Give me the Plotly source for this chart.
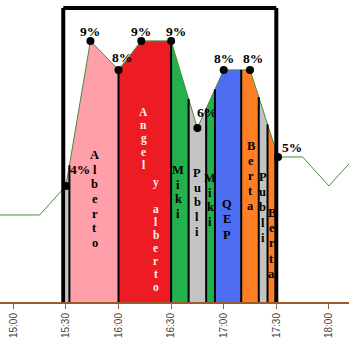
import numpy as np
import plotly.graph_objects as go

DAY = "2024-01-01"

# Audience share curve (time of day, share in %)
line_times = ["14:45", "15:00", "15:15", "15:30", "15:44", "16:00", "16:13", "16:30",
              "16:45", "17:00", "17:15", "17:31", "17:45", "18:00", "18:15"]
line_share = [3, 3, 3, 4, 9, 8, 9, 9, 6, 8, 8, 5, 5, 4, 5]

# Points marked and labelled inside the highlighted window
marked_times = ["15:30", "15:44", "16:00", "16:13", "16:30", "16:45", "17:00", "17:15", "17:31"]
marked_share = [4, 9, 8, 9, 9, 6, 8, 8, 5]

# Programme blocks in the window
programmes = ["Publi", "Alberto", "Angel y alberto", "Miki", "Publi", "Miki", "QEP",
              "Berta", "Publi", "Berta"]
prog_start = ["15:30", "15:32", "16:00", "16:30", "16:40", "16:50", "16:55", "17:10",
              "17:20", "17:25"]
prog_end = ["15:32", "16:00", "16:30", "16:40", "16:50", "16:55", "17:10", "17:20",
            "17:25", "17:30"]

tick_labels = ["15:00", "15:30", "16:00", "16:30", "17:00", "17:30", "18:00"]

window = ("15:28:30", "17:30")

prog_colors = {
    "Publi": "#C3C3C3",
    "Alberto": "#FF9FA9",
    "Angel y alberto": "#ED1C24",
    "Miki": "#22B14C",
    "QEP": "#4D6DF3",
    "Berta": "#FF7F27",
}


def to_min(t):
    parts = [int(p) for p in t.split(":")]
    while len(parts) < 3:
        parts.append(0)
    return parts[0] * 60 + parts[1] + parts[2] / 60.0


def to_dt(m):
    s = int(round(m * 60))
    return f"{DAY} {s // 3600:02d}:{(s % 3600) // 60:02d}:{s % 60:02d}"


lt = np.array([to_min(t) for t in line_times])
lv = np.array(line_share, dtype=float)

fig = go.Figure()

# Coloured areas under the curve, one per programme block
for name, s, e in zip(programmes, prog_start, prog_end):
    s_m, e_m = to_min(s), to_min(e)
    inner = [t for t in lt if s_m < t < e_m]
    xs = [s_m] + inner + [e_m]
    ys = list(np.interp(xs, lt, lv))
    px = [to_dt(x) for x in xs] + [to_dt(e_m), to_dt(s_m), to_dt(s_m)]
    py = ys + [0, 0, ys[0]]
    fig.add_trace(go.Scatter(x=px, y=py, mode="lines", fill="toself",
                             fillcolor=prog_colors[name], line=dict(width=0),
                             hoverinfo="skip", showlegend=False))

# Share curve
fig.add_trace(go.Scatter(x=[to_dt(t) for t in lt], y=lv, mode="lines",
                         line=dict(color="#4A8A3A", width=1), showlegend=False))

# Black dividers between programme blocks
sx, sy = [], []
for s in prog_start[1:]:
    m = to_min(s)
    top = float(np.interp(m, lt, lv))
    sx += [to_dt(m), to_dt(m), None]
    sy += [0, top, None]
fig.add_trace(go.Scatter(x=sx, y=sy, mode="lines", line=dict(color="black", width=2),
                         hoverinfo="skip", showlegend=False))

# Markers on the labelled points
fig.add_trace(go.Scatter(x=[to_dt(to_min(t)) for t in marked_times], y=marked_share,
                         mode="markers", marker=dict(color="black", size=8),
                         showlegend=False))

# Highlighted window frame (left, top, right)
w0, w1 = to_dt(to_min(window[0])), to_dt(to_min(window[1]))
top_y = 10.13
for x0, y0, x1, y1 in [(w0, 0, w0, top_y), (w0, top_y, w1, top_y), (w1, 0, w1, top_y)]:
    fig.add_shape(type="line", xref="x", yref="y", x0=x0, y0=y0, x1=x1, y1=y1,
                  line=dict(color="black", width=4), layer="above")

SERIF = "Liberation Serif, Times New Roman, serif"

# Percentage labels
pct_shift = [(14, 16), (0, 9), (3, 12), (0, 9), (5, 9), (10, 15), (0, 11), (3, 11), (14, 9)]
for t, v, (dx, dy) in zip(marked_times, marked_share, pct_shift):
    fig.add_annotation(x=to_dt(to_min(t)), y=v, text=f"<b>{v}%</b>", showarrow=False,
                       xshift=dx, yshift=dy, xanchor="center", yanchor="middle",
                       font=dict(family=SERIF, size=13.5, color="black"))

# Vertical programme names, one letter per row:
# (text, time, centre y, font size, row spacing px, colour)
name_labels = [
    ("Alberto", "15:46:30", 3.55, 12.5, 14.7, "black"),
    ("Angel", "16:14:30", 5.64, 11.5, 13.3, "#FBF1E6"),
    ("y alberto", "16:21:20", 2.31, 11.5, 13.0, "#FBF1E6"),
    ("Miki", "16:34", 3.79, 12.5, 14.7, "black"),
    ("Publi", "16:45", 3.43, 12.5, 14.7, "black"),
    ("Miki", "16:52:20", 3.52, 12.5, 14.7, "black"),
    ("QEP", "17:02:10", 2.86, 12.5, 15.5, "black"),
    ("Berta", "17:15:30", 4.34, 12.5, 15.0, "black"),
    ("Publi", "17:22:20", 3.26, 12.5, 15.2, "black"),
    ("Berta", "17:27:30", 2.02, 12.5, 15.2, "black"),
]
for txt, t, y, size, gap, col in name_labels:
    n = len(txt)
    for i, ch in enumerate(txt):
        if ch == " ":
            continue
        fig.add_annotation(x=to_dt(to_min(t)), y=y, text=f"<b>{ch}</b>", showarrow=False,
                           xanchor="center", yanchor="middle",
                           yshift=((n - 1) / 2 - i) * gap,
                           font=dict(family=SERIF, size=size, color=col))

brown = "#9C5B2E"
fig.update_layout(
    width=349, height=346,
    margin=dict(l=0, r=0, t=0, b=44),
    paper_bgcolor="white", plot_bgcolor="white",
    showlegend=False,
    xaxis=dict(
        type="date",
        range=[to_dt(to_min("14:52:25")), to_dt(to_min("18:11:28"))],
        tickvals=[to_dt(to_min(t)) for t in tick_labels],
        ticktext=tick_labels,
        tickangle=-90,
        ticks="outside", ticklen=5, tickcolor=brown, tickwidth=1,
        showline=True, linecolor=brown, linewidth=2,
        showgrid=False, zeroline=False,
        tickfont=dict(family="Liberation Sans, Arial, sans-serif", size=10, color="#444"),
    ),
    yaxis=dict(range=[0, 10.41], visible=False, showgrid=False, zeroline=False),
)

fig.write_html("out.html")
